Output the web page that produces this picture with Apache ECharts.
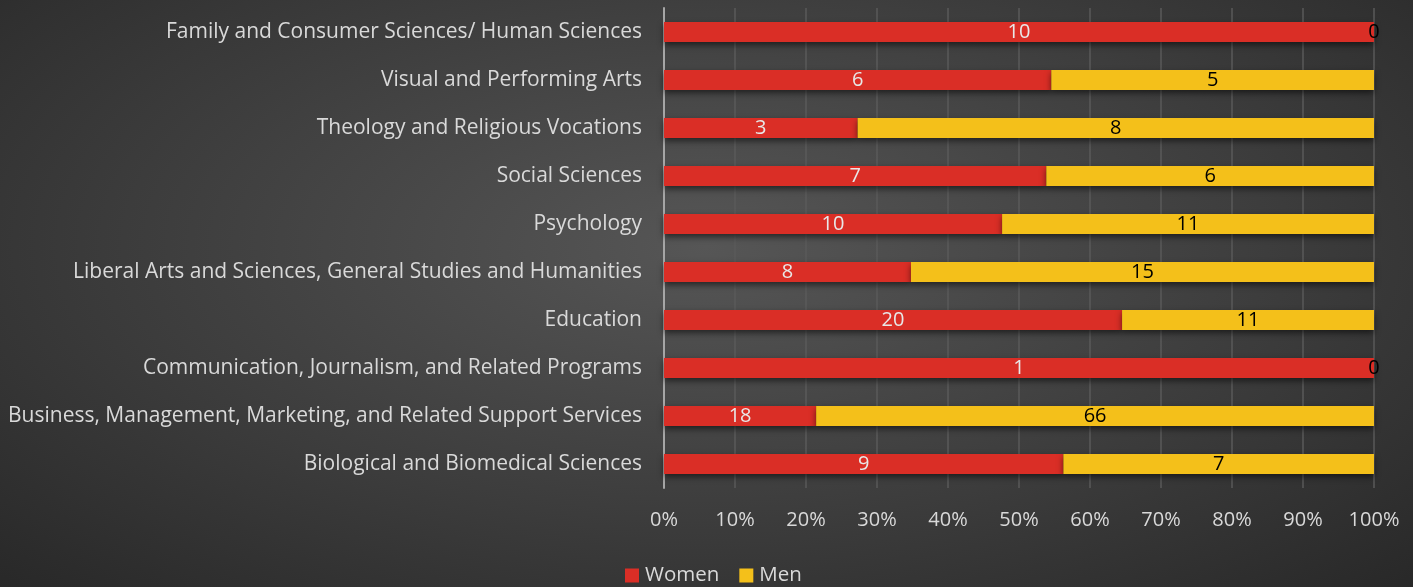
<!DOCTYPE html>
<html>
<head>
<meta charset="utf-8">
<script src="https://cdn.jsdelivr.net/npm/echarts@6/dist/echarts.min.js"></script>
<style>
  html, body { margin: 0; padding: 0; }
  #main {
    width: 1413px; height: 587px;
    background: radial-gradient(ellipse 75% 85% at 50% 42%, #565656 0%, #3c3c3c 55%, #262626 100%);
  }
</style>
</head>
<body>
<div id="main"></div>
<script>
// categories bottom -> top (as the y axis draws them)
var categories = [
    'Biological and Biomedical Sciences',
    'Business, Management, Marketing, and Related Support Services',
    'Communication, Journalism, and Related Programs',
    'Education',
    'Liberal Arts and Sciences, General Studies and Humanities',
    'Psychology',
    'Social Sciences',
    'Theology and Religious Vocations',
    'Visual and Performing Arts',
    'Family and Consumer Sciences/ Human Sciences'
];
var women = [9, 18, 1, 20, 8, 10, 7, 3, 6, 10];
var men = [7, 66, 0, 11, 15, 11, 6, 8, 5, 0];
var xTicks = ['0%', '10%', '20%', '30%', '40%', '50%', '60%', '70%', '80%', '90%', '100%'];

(function() {
    var chart = echarts.init(document.getElementById('main'));
    var font = '"Open Sans", "Noto Sans", sans-serif';

    function share(arr) {
        return arr.map(function(v, i) {
            var total = women[i] + men[i];
            return { value: total ? v / total * 100 : 0, raw: v };
        });
    }

    var barShadow = {
        shadowColor: 'rgba(0,0,0,0.55)',
        shadowBlur: 6,
        shadowOffsetY: 3
    };

    var option = {
        backgroundColor: 'transparent',
        textStyle: { fontFamily: font },
        legend: {
            top: 560,
            left: 620,
            itemWidth: 14,
            itemHeight: 14,
            itemGap: 20,
            icon: 'rect',
            textStyle: { color: '#d9d9d9', fontSize: 20.5, fontFamily: font, padding: [0, 0, 0, 1] },
            data: ['Women', 'Men']
        },
        grid: {
            left: 664,
            right: 39,
            top: 8,
            bottom: 99
        },
        xAxis: {
            type: 'value',
            min: 0,
            max: 100,
            interval: 10,
            axisLine: { show: false },
            axisTick: { show: false },
            splitLine: { lineStyle: { color: '#5a5a5a', width: 1.5 } },
            axisLabel: {
                color: '#d9d9d9',
                fontSize: 20,
                margin: 22,
                fontFamily: font,
                formatter: function(v) { return xTicks[Math.round(v / 10)]; }
            }
        },
        yAxis: {
            type: 'category',
            data: categories,
            axisLine: { lineStyle: { color: '#a6a6a6', width: 2 } },
            axisTick: { show: false },
            axisLabel: { color: '#d9d9d9', fontSize: 21, margin: 22, fontFamily: font }
        },
        series: [{
                name: 'Women',
                type: 'bar',
                stack: 'all',
                barWidth: 20,
                itemStyle: Object.assign({ color: '#da2e26' }, barShadow),
                label: {
                    show: true,
                    position: 'inside',
                    color: '#e8e8e8',
                    fontSize: 20,
                    fontFamily: font,
                    formatter: function(p) { return p.data.raw; }
                },
                data: share(women)
            },
            {
                name: 'Men',
                type: 'bar',
                stack: 'all',
                barWidth: 20,
                itemStyle: Object.assign({ color: '#f4c01a' }, barShadow),
                label: {
                    show: true,
                    position: 'inside',
                    color: '#000000',
                    fontSize: 20,
                    fontFamily: font,
                    formatter: function(p) { return p.data.raw; }
                },
                data: share(men)
            }
        ]
    };

    chart.setOption(option);
})();
</script>
</body>
</html>
